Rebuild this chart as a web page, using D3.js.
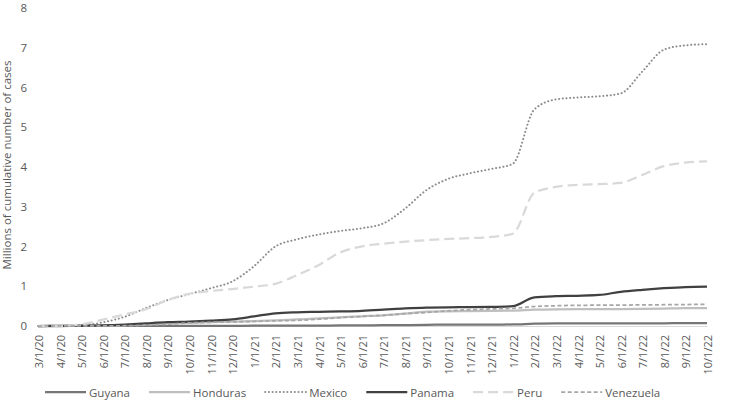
<!DOCTYPE html>
<html>
<head>
<meta charset="utf-8">
<script src="https://d3js.org/d3.v7.min.js"></script>
<style>
  body { margin: 0; background: #fff; }
  svg text { font-family: "Open Sans", sans-serif; fill: #595959; }
</style>
</head>
<body>
<div id="chart"></div>
<script>
// month labels on the category axis
const dates = ["3/1/20","4/1/20","5/1/20","6/1/20","7/1/20","8/1/20","9/1/20","10/1/20","11/1/20","12/1/20",
  "1/1/21","2/1/21","3/1/21","4/1/21","5/1/21","6/1/21","7/1/21","8/1/21","9/1/21","10/1/21","11/1/21","12/1/21",
  "1/1/22","2/1/22","3/1/22","4/1/22","5/1/22","6/1/22","7/1/22","8/1/22","9/1/22","10/1/22"];

// millions of cumulative cases
const guyana = [0,0,0.0001,0.0002,0.0003,0.0006,0.0015,0.003,0.004,0.0055,0.0065,0.008,0.009,0.011,0.014,0.017,
  0.02,0.023,0.03,0.034,0.036,0.037,0.038,0.057,0.063,0.064,0.065,0.066,0.067,0.069,0.07,0.071];
const honduras = [0,0.0002,0.001,0.005,0.02,0.043,0.064,0.081,0.097,0.108,0.122,0.14,0.166,0.19,0.22,0.245,
  0.27,0.31,0.36,0.37,0.377,0.38,0.385,0.41,0.42,0.422,0.424,0.426,0.43,0.44,0.45,0.45];
const mexico = [0,0.001,0.02,0.09,0.23,0.45,0.65,0.8,0.95,1.12,1.5,2.0,2.18,2.3,2.39,2.46,
  2.58,2.95,3.42,3.7,3.84,3.95,4.08,5.45,5.7,5.75,5.78,5.85,6.4,6.95,7.06,7.09];
const panama = [0,0.001,0.006,0.014,0.035,0.066,0.095,0.113,0.136,0.166,0.24,0.32,0.345,0.355,0.365,0.38,
  0.41,0.445,0.46,0.47,0.475,0.48,0.5,0.72,0.75,0.76,0.78,0.86,0.91,0.95,0.98,0.99];
const peru = [0,0.001,0.04,0.16,0.29,0.42,0.65,0.81,0.88,0.93,0.99,1.06,1.28,1.53,1.85,2.0,
  2.07,2.12,2.16,2.19,2.21,2.24,2.32,3.35,3.5,3.55,3.57,3.6,3.8,4.02,4.11,4.14];
const venezuela = [0,0.0001,0.0003,0.0017,0.0068,0.02,0.045,0.079,0.093,0.103,0.114,0.13,0.14,0.17,0.21,0.24,
  0.27,0.31,0.34,0.38,0.41,0.43,0.445,0.49,0.51,0.52,0.523,0.527,0.53,0.535,0.54,0.543];

const yTicks = [0,1,2,3,4,5,6,7,8];

const series = [
  { name: "Guyana",    values: guyana,    color: "#767676", width: 2.25, dash: null },
  { name: "Honduras",  values: honduras,  color: "#bfbfbf", width: 2.25, dash: null },
  { name: "Mexico",    values: mexico,    color: "#8c8c8c", width: 2,    dash: "0.1 3.6", cap: "round" },
  { name: "Panama",    values: panama,    color: "#404040", width: 2.25, dash: null },
  { name: "Peru",      values: peru,      color: "#d9d9d9", width: 2.25, dash: "10 5" },
  { name: "Venezuela", values: venezuela, color: "#a6a6a6", width: 1.75, dash: "4 2.5" }
];

const width = 741, height = 411;
const svg = d3.select("#chart").append("svg")
  .attr("width", width).attr("height", height);

const x = d3.scalePoint().domain(dates).range([38, 707]);
const y = d3.scaleLinear().domain([0, 8]).range([326, 8]);

// y axis labels only, no line or grid
const yAxis = svg.append("g").attr("transform", "translate(27,0)")
  .call(d3.axisLeft(y).tickValues(yTicks).tickSize(0).tickPadding(0));
yAxis.select(".domain").remove();
yAxis.selectAll("text").style("font-size", "11.5px");

svg.append("text")
  .attr("transform", "translate(11,165) rotate(-90)")
  .attr("text-anchor", "middle")
  .style("font-size", "11.5px")
  .text("Millions of cumulative number of cases");

// x axis baseline + rotated month labels
const xAxis = svg.append("g").attr("transform", "translate(0,326)")
  .call(d3.axisBottom(x).tickSize(0).tickPadding(0));
xAxis.select(".domain").attr("stroke", "#d9d9d9").attr("stroke-width", 1);
xAxis.selectAll("text")
  .style("font-size", "11px")
  .attr("text-anchor", "end")
  .attr("dy", null)
  .attr("transform", "translate(0,9) rotate(-90)")
  .attr("x", 0).attr("y", 0)
  .attr("dominant-baseline", "central");

const line = d3.line()
  .x((d, i) => x(dates[i]))
  .y(d => y(d))
  .curve(d3.curveMonotoneX);

svg.append("g").selectAll("path")
  .data(series)
  .join("path")
  .attr("fill", "none")
  .attr("stroke", d => d.color)
  .attr("stroke-width", d => d.width)
  .attr("stroke-dasharray", d => d.dash)
  .attr("stroke-linecap", d => d.cap || "butt")
  .attr("d", d => line(d.values));

// legend, laid out left to right
const legend = svg.append("g").attr("transform", "translate(45,392)");
let cursor = 0;
series.forEach(s => {
  const item = legend.append("g").attr("transform", `translate(${cursor},0)`);
  item.append("line")
    .attr("x1", 0).attr("x2", 41).attr("y1", 0).attr("y2", 0)
    .attr("stroke", s.color).attr("stroke-width", s.width)
    .attr("stroke-dasharray", s.dash)
    .attr("stroke-linecap", s.cap || "butt");
  const t = item.append("text")
    .attr("x", 44).attr("y", 0)
    .attr("dominant-baseline", "central")
    .style("font-size", "11.5px")
    .text(s.name);
  cursor += 44 + t.node().getComputedTextLength() + 19;
});
</script>
</body>
</html>
